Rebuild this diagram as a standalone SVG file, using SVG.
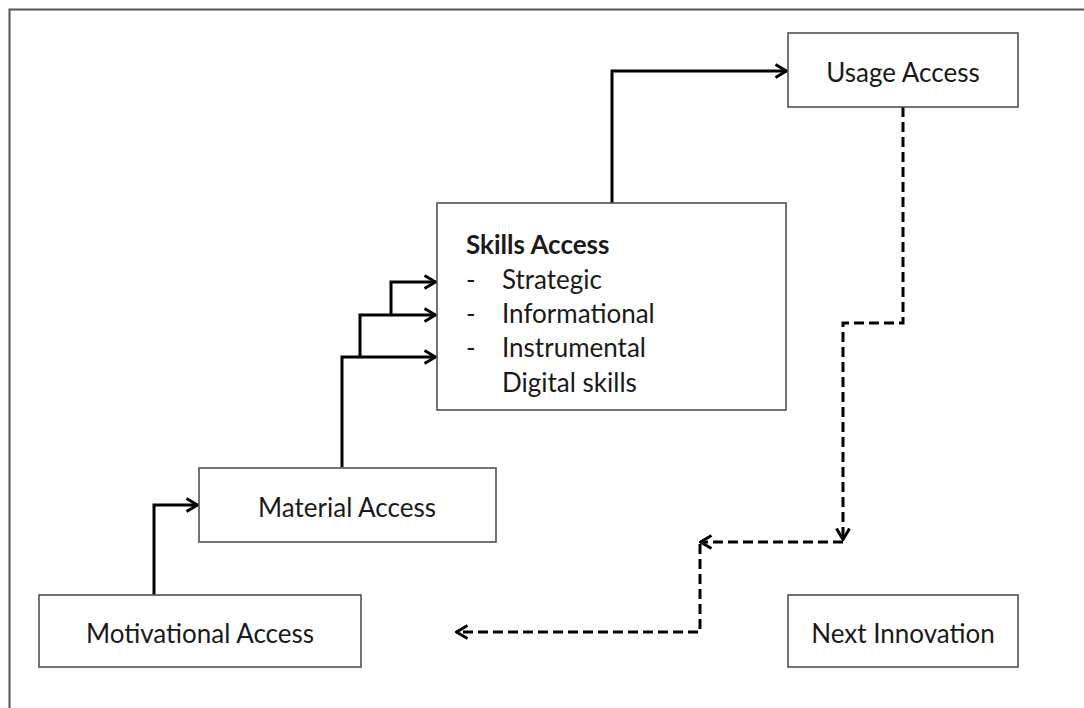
<svg xmlns="http://www.w3.org/2000/svg" width="1084" height="708" viewBox="0 0 1084 708">
  <style>
    .box { fill: #ffffff; stroke: #505050; stroke-width: 1.6; }
    .lbl { font-family: Lato, "Open Sans", "Liberation Sans", sans-serif; font-size: 26px; fill: #1a1a1a; }
    .mid { text-anchor: middle; }
    .bold { font-weight: bold; }
    .conn { fill: none; stroke: #000000; stroke-width: 3; stroke-linejoin: miter; }
    .dash { fill: none; stroke: #000000; stroke-width: 3; stroke-dasharray: 10 5; }
    .frame { fill: none; stroke: #555555; stroke-width: 2; }
  </style>
  <defs>
    <marker id="arr" viewBox="0 0 14 16" refX="13" refY="8" markerWidth="14" markerHeight="16" markerUnits="userSpaceOnUse" orient="auto">
      <path d="M1.5,1.5 L12.5,8 L1.5,14.5" fill="none" stroke="#000000" stroke-width="3"/>
    </marker>
  </defs>
  <rect width="1084" height="708" fill="#ffffff"/>
  <path class="frame" d="M9.5,708 V9.5 H1084"/>

  <g id="connectors">
    <path class="conn" d="M154,595 V505 H198" marker-end="url(#arr)"/>
    <path class="conn" d="M342,467 V357 H436" marker-end="url(#arr)"/>
    <path class="conn" d="M360,357 V315 H436" marker-end="url(#arr)"/>
    <path class="conn" d="M391,315 V282 H436" marker-end="url(#arr)"/>
    <path class="conn" d="M612,203 V71 H787" marker-end="url(#arr)"/>
    <path class="dash" d="M903,107 V323 H843 V540" marker-end="url(#arr)"/>
    <path class="dash" d="M843,542 H700" marker-end="url(#arr)"/>
    <path class="dash" d="M700,544 V632 H456" marker-end="url(#arr)"/>
  </g>

  <g id="usage">
    <rect class="box" x="788" y="33" width="230" height="74"/>
    <text class="lbl mid" x="903" y="82">Usage Access</text>
  </g>

  <g id="skills">
    <rect class="box" x="437" y="203" width="349" height="207"/>
    <text class="lbl bold" x="466" y="254">Skills Access</text>
    <text class="lbl" x="466" y="289">-</text>
    <text class="lbl" x="502" y="289">Strategic</text>
    <text class="lbl" x="466" y="323">-</text>
    <text class="lbl" x="502" y="323">Informational</text>
    <text class="lbl" x="466" y="357">-</text>
    <text class="lbl" x="502" y="357">Instrumental</text>
    <text class="lbl" x="502" y="392">Digital skills</text>
  </g>

  <g id="material">
    <rect class="box" x="199" y="468" width="297" height="74"/>
    <text class="lbl mid" x="347" y="517">Material Access</text>
  </g>

  <g id="motivational">
    <rect class="box" x="39" y="595" width="322" height="72"/>
    <text class="lbl mid" x="200" y="643">Motivational Access</text>
  </g>

  <g id="next">
    <rect class="box" x="788" y="595" width="230" height="72"/>
    <text class="lbl mid" x="903" y="643">Next Innovation</text>
  </g>
</svg>
